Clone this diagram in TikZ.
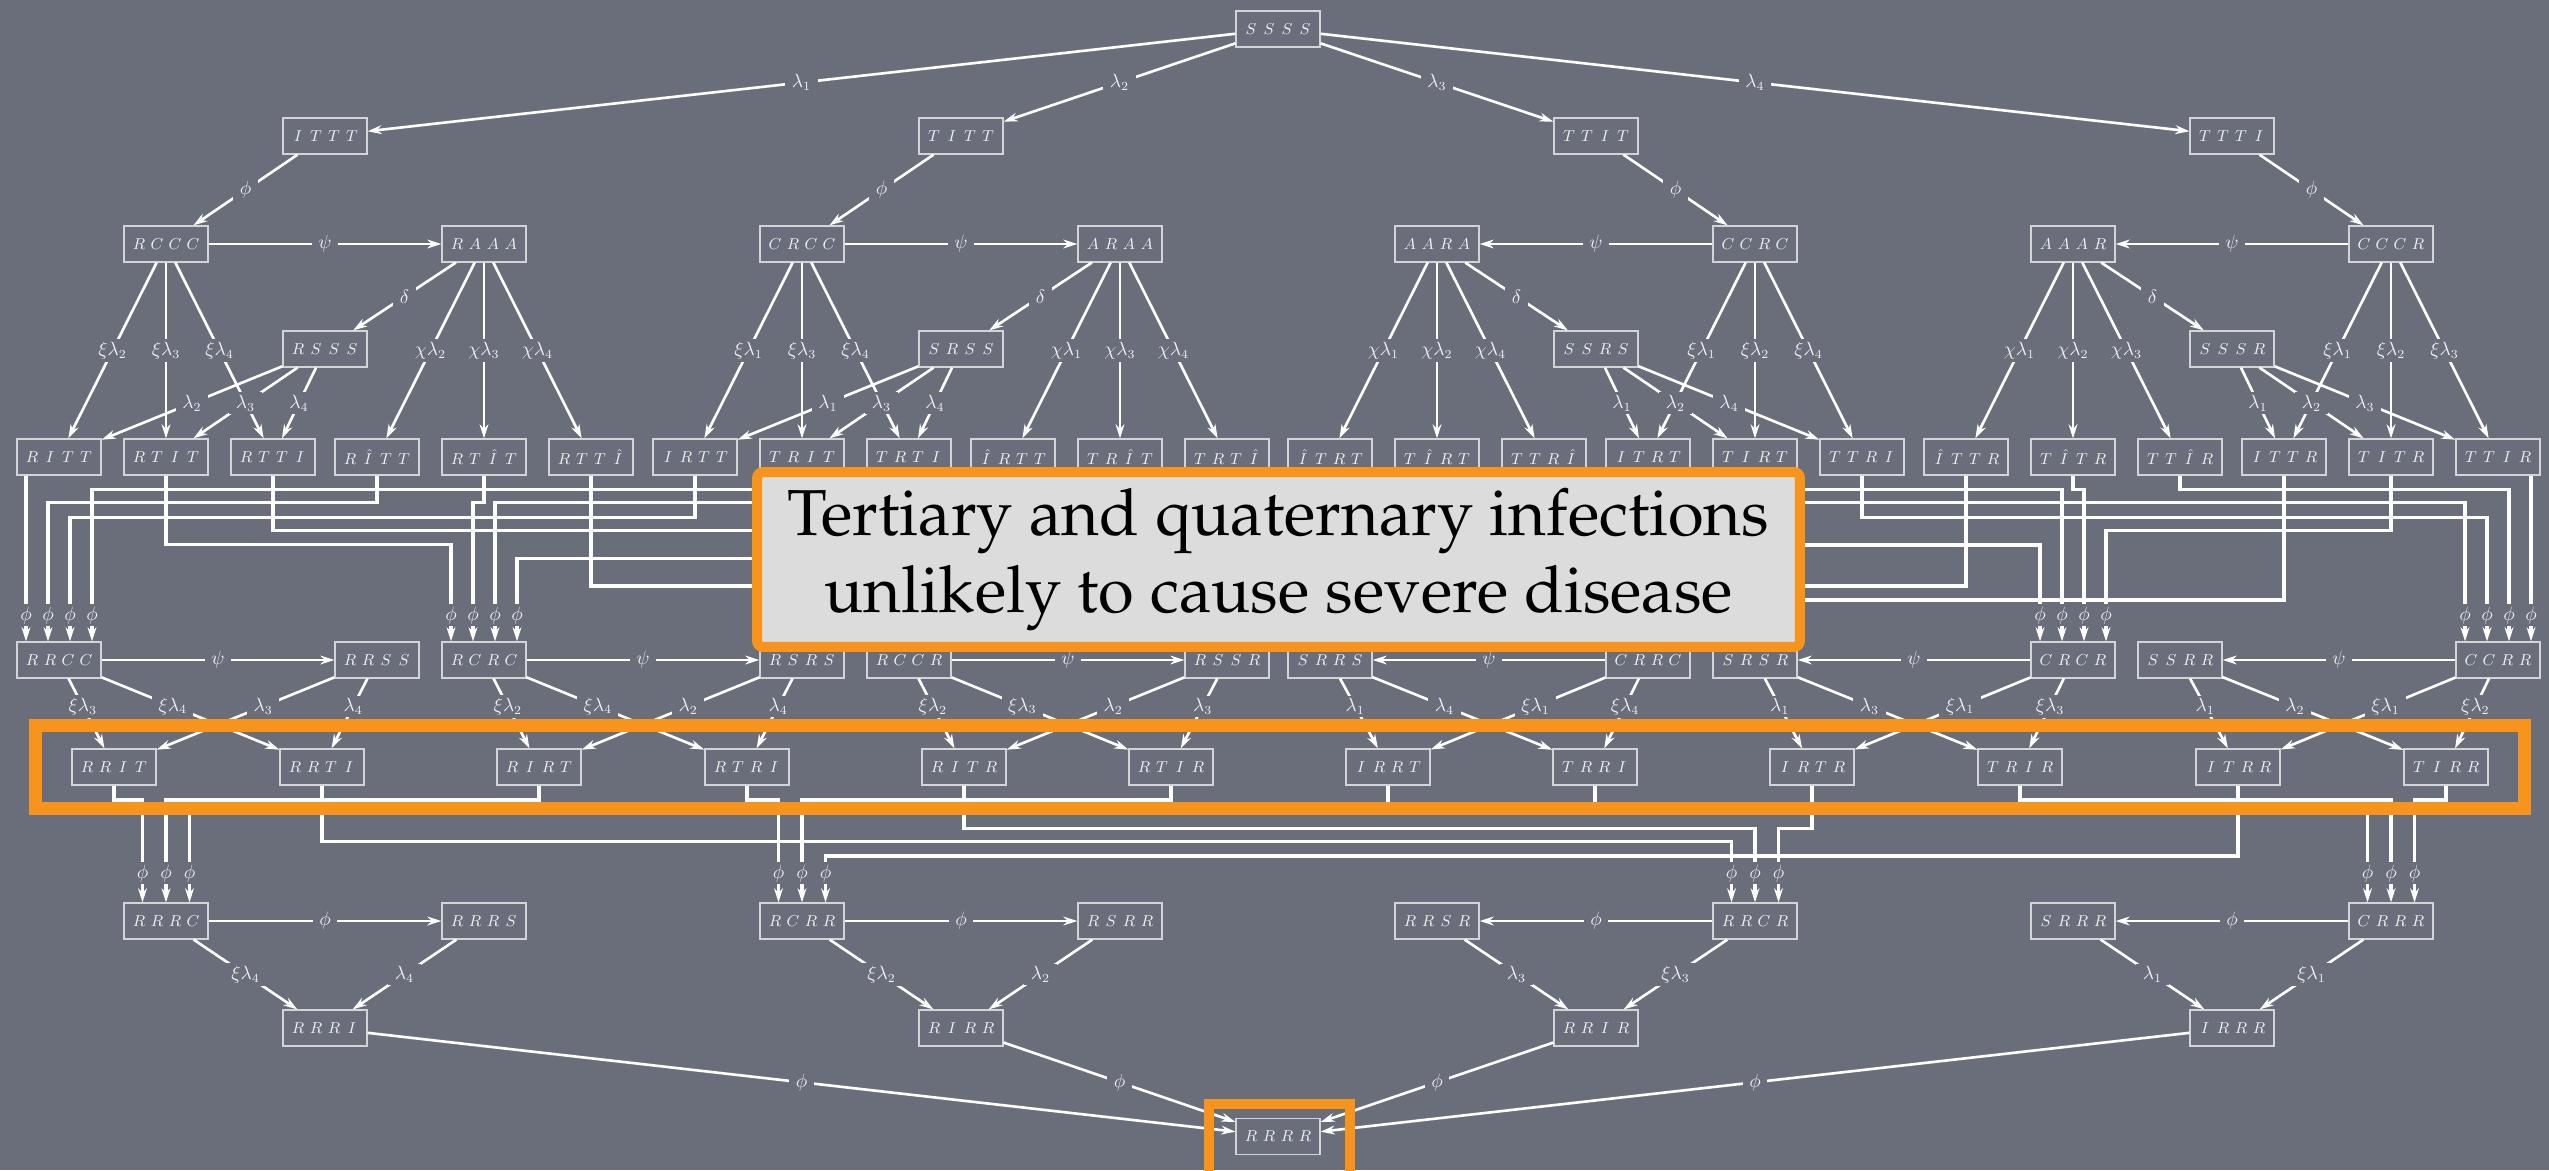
\documentclass[tikz,border=0pt]{standalone}
\usepackage[T1,TU]{fontenc}
\usetikzlibrary{arrows.meta,calc,fit}

\definecolor{slate}{RGB}{106,110,122}
\definecolor{hilite}{RGB}{247,148,30}
\definecolor{notegray}{RGB}{220,220,220}
\definecolor{boxedge}{RGB}{210,212,216}
\definecolor{boxtext}{RGB}{240,240,242}

\newlength{\slotw}
\setlength{\slotw}{0.36cm}
\newcommand{\cmp}[4]{\makebox[\slotw]{$#1$}\makebox[\slotw]{$#2$}\makebox[\slotw]{$#3$}\makebox[\slotw]{$#4$}}
\newcommand{\smallmath}{\fontsize{9.5}{11}\selectfont}
\newcommand{\labmath}{\fontsize{10.5}{12}\selectfont}
\newcommand{\notefont}{\fontencoding{T1}\fontfamily{ppl}\fontsize{37}{44}\selectfont}

% recovery routes: source, entry point, level, label gap
\newcommand{\phiroute}[4]{\draw[route] (#1.south) |- (#2 |- 0,#3) -- ($(#2)+(0,-#4)$) node[lbl]{$\phi$} -- (#2);}
\newcommand{\phidrop}[3]{\draw[route] (#2 |- #1.south) -- ($(#2)+(0,-#3)$) node[lbl]{$\phi$} -- (#2);}
% same route where the label lies under the note
\newcommand{\phihidden}[3]{\draw[route] (#1.south) |- (#2 |- 0,#3) -- (#2);}

\begin{document}
\begin{tikzpicture}[
    x=0.02cm, y=-0.02cm,
    box/.style={draw=boxedge, line width=0.7pt, text=boxtext, font=\smallmath,
                minimum height=0.72cm, inner xsep=0.12cm, inner ysep=0pt},
    link/.style={-{Stealth[length=8pt,width=5pt]}, draw=white, line width=1.5pt},
    route/.style={link, line width=1.8pt},
    lbl/.style={fill=slate, text=boxtext, font=\labmath, inner xsep=0.13cm, inner ysep=0.05cm},
    note/.style={draw=hilite, line width=0.2cm, fill=notegray, rounded corners=0.12cm,
                 minimum width=20.86cm, minimum height=3.5cm, align=center, font=\notefont},
    hl/.style={draw=hilite}
]
\path[use as bounding box, fill=slate] (0,0) rectangle (2549,1170);

% states
\node[box] (ssss) at (1278,29) {\cmp SSSS};
\foreach \n/\x/\t in {ittt/325/ITTT, titt/961/TITT, ttit/1596/TTIT, ttti/2232/TTTI}
  \node[box] (\n) at (\x,136) {\expandafter\cmp\t};
\foreach \n/\x/\t in {rccc/166/RCCC, raaa/484/RAAA, crcc/802/CRCC, araa/1120/ARAA,
                      aara/1437/AARA, ccrc/1755/CCRC, aaar/2073/AAAR, cccr/2391/CCCR}
  \node[box] (\n) at (\x,244) {\expandafter\cmp\t};
\foreach \n/\x/\t in {rsss/325/RSSS, srss/961/SRSS, ssrs/1596/SSRS, sssr/2232/SSSR}
  \node[box] (\n) at (\x,349) {\expandafter\cmp\t};
\foreach \n/\x/\t in {ritt/59/RITT, rtit/166/RTIT, rtti/273/RTTI, rhtt/377/R{\hat I}TT,
                      rtht/484/RT{\hat I}T, rtth/591/RTT{\hat I},
                      irtt/695/IRTT, trit/802/TRIT, trti/909/TRTI, hrtt/1013/{\hat I}RTT,
                      trht/1120/TR{\hat I}T, trth/1227/TRT{\hat I},
                      htrt/1330/{\hat I}TRT, thrt/1437/T{\hat I}RT, ttrh/1544/TTR{\hat I},
                      itrt/1648/ITRT, tirt/1755/TIRT, ttri/1862/TTRI,
                      httr/1966/{\hat I}TTR, thtr/2073/T{\hat I}TR, tthr/2180/TT{\hat I}R,
                      ittr/2284/ITTR, titr/2391/TITR, ttir/2498/TTIR}
  \node[box] (\n) at (\x,457) {\expandafter\cmp\t};
\foreach \n/\x/\t in {rrcc/59/RRCC, rrss/377/RRSS, rcrc/484/RCRC, rsrs/802/RSRS,
                      rccr/909/RCCR, rssr/1227/RSSR, srrs/1330/SRRS, crrc/1648/CRRC,
                      srsr/1755/SRSR, crcr/2073/CRCR, ssrr/2180/SSRR, ccrr/2498/CCRR}
  \node[box] (\n) at (\x,660) {\expandafter\cmp\t};
\foreach \n/\x/\t in {rrit/114/RRIT, rrti/322/RRTI, rirt/539/RIRT, rtri/747/RTRI,
                      ritr/964/RITR, rtir/1171/RTIR, irrt/1388/IRRT, trri/1595/TRRI,
                      irtr/1812/IRTR, trir/2020/TRIR, itrr/2238/ITRR, tirr/2446/TIRR}
  \node[box] (\n) at (\x,767) {\expandafter\cmp\t};
\foreach \n/\x/\t in {rrrc/166/RRRC, rrrs/484/RRRS, rcrr/802/RCRR, rsrr/1120/RSRR,
                      rrsr/1437/RRSR, rrcr/1755/RRCR, srrr/2073/SRRR, crrr/2391/CRRR}
  \node[box] (\n) at (\x,921) {\expandafter\cmp\t};
\foreach \n/\x/\t in {rrri/325/RRRI, rirr/961/RIRR, rrir/1596/RRIR, irrr/2232/IRRR}
  \node[box] (\n) at (\x,1028) {\expandafter\cmp\t};
\node[box] (rrrr) at (1278,1136.5) {\cmp RRRR};

% entry points of the recovery arrows
\foreach \n in {rrcc,rcrc,rccr,crcr,ccrr} {
  \coordinate (\n1) at ($(\n.north)+(-33,0)$);
  \coordinate (\n2) at ($(\n.north)+(-11,0)$);
  \coordinate (\n3) at ($(\n.north)+(11,0)$);
  \coordinate (\n4) at ($(\n.north)+(33,0)$);
}
\foreach \n in {rrrc,rcrr,rrcr,crrr} {
  \coordinate (\n1) at ($(\n.north)+(-23.5,0)$);
  \coordinate (\n2) at (\n.north);
  \coordinate (\n3) at ($(\n.north)+(23.5,0)$);
}

% upper transitions
\foreach \a/\b/\l in {ssss/ittt/\lambda_1, ssss/titt/\lambda_2, ssss/ttit/\lambda_3, ssss/ttti/\lambda_4,
    ittt/rccc/\phi, titt/crcc/\phi, ttit/ccrc/\phi, ttti/cccr/\phi,
    rccc/raaa/\psi, crcc/araa/\psi, ccrc/aara/\psi, cccr/aaar/\psi,
    raaa/rsss/\delta, araa/srss/\delta, aara/ssrs/\delta, aaar/sssr/\delta,
    rccc/ritt/\xi\lambda_2, rccc/rtit/\xi\lambda_3, rccc/rtti/\xi\lambda_4,
    raaa/rhtt/\chi\lambda_2, raaa/rtht/\chi\lambda_3, raaa/rtth/\chi\lambda_4,
    rsss/ritt/\lambda_2, rsss/rtit/\lambda_3, rsss/rtti/\lambda_4,
    crcc/irtt/\xi\lambda_1, crcc/trit/\xi\lambda_3, crcc/trti/\xi\lambda_4,
    araa/hrtt/\chi\lambda_1, araa/trht/\chi\lambda_3, araa/trth/\chi\lambda_4,
    srss/irtt/\lambda_1, srss/trit/\lambda_3, srss/trti/\lambda_4,
    aara/htrt/\chi\lambda_1, aara/thrt/\chi\lambda_2, aara/ttrh/\chi\lambda_4,
    ccrc/itrt/\xi\lambda_1, ccrc/tirt/\xi\lambda_2, ccrc/ttri/\xi\lambda_4,
    ssrs/itrt/\lambda_1, ssrs/tirt/\lambda_2, ssrs/ttri/\lambda_4,
    aaar/httr/\chi\lambda_1, aaar/thtr/\chi\lambda_2, aaar/tthr/\chi\lambda_3,
    cccr/ittr/\xi\lambda_1, cccr/titr/\xi\lambda_2, cccr/ttir/\xi\lambda_3,
    sssr/ittr/\lambda_1, sssr/titr/\lambda_2, sssr/ttir/\lambda_3}
  \draw[link] (\a) -- node[lbl]{$\l$} (\b);

% lower transitions
\foreach \a/\b/\l in {rrcc/rrss/\psi, rcrc/rsrs/\psi, rccr/rssr/\psi,
    crrc/srrs/\psi, crcr/srsr/\psi, ccrr/ssrr/\psi,
    rrrc/rrrs/\phi, rcrr/rsrr/\phi, rrcr/rrsr/\phi, crrr/srrr/\phi,
    rrrc/rrri/\xi\lambda_4, rrrs/rrri/\lambda_4, rcrr/rirr/\xi\lambda_2, rsrr/rirr/\lambda_2,
    rrsr/rrir/\lambda_3, rrcr/rrir/\xi\lambda_3, srrr/irrr/\lambda_1, crrr/irrr/\xi\lambda_1,
    rrri/rrrr/\phi, rirr/rrrr/\phi, rrir/rrrr/\phi, irrr/rrrr/\phi}
  \draw[link] (\a) -- node[lbl]{$\l$} (\b);
\foreach \a/\b/\l in {rrcc/rrit/\xi\lambda_3, rrcc/rrti/\xi\lambda_4, rrss/rrit/\lambda_3, rrss/rrti/\lambda_4,
    rcrc/rirt/\xi\lambda_2, rcrc/rtri/\xi\lambda_4, rsrs/rirt/\lambda_2, rsrs/rtri/\lambda_4,
    rccr/ritr/\xi\lambda_2, rccr/rtir/\xi\lambda_3, rssr/ritr/\lambda_2, rssr/rtir/\lambda_3,
    srrs/irrt/\lambda_1, srrs/trri/\lambda_4, crrc/irrt/\xi\lambda_1, crrc/trri/\xi\lambda_4,
    srsr/irtr/\lambda_1, srsr/trir/\lambda_3, crcr/irtr/\xi\lambda_1, crcr/trir/\xi\lambda_3,
    ssrr/itrr/\lambda_1, ssrr/tirr/\lambda_2, ccrr/itrr/\xi\lambda_1, ccrr/tirr/\xi\lambda_2}
  \draw[link] (\a) -- node[lbl, pos=0.4]{$\l$} (\b);

% recovery after third infection
\phidrop{ritt}{rrcc1}{26}
\phiroute{rhtt}{rrcc2}{502.7}{26}
\phiroute{irtt}{rrcc3}{517.3}{26}
\phiroute{hrtt}{rrcc4}{489.3}{26}
\phiroute{rtit}{rcrc1}{544.7}{26}
\phiroute{rtht}{rcrc2}{502.7}{26}
\phiroute{htrt}{rcrc3}{502.7}{26}
\phiroute{itrt}{rcrc4}{558.3}{26}
\phihidden{rtti}{rccr1}{530.7}
\phihidden{rtth}{rccr2}{586}
\phihidden{httr}{rccr3}{586}
\phihidden{ittr}{rccr4}{600}
\phiroute{trti}{crcr1}{545}{26}
\phiroute{trth}{crcr2}{489.3}{26}
\phiroute{thtr}{crcr3}{489.3}{26}
\phiroute{titr}{crcr4}{530.7}{26}
\phiroute{ttrh}{ccrr1}{502.7}{26}
\phiroute{ttri}{ccrr2}{517.3}{26}
\phiroute{tthr}{ccrr3}{489.3}{26}
\phidrop{ttir}{ccrr4}{26}

% recovery after fourth infection
\phiroute{rrit}{rrrc1}{800}{29}
\phiroute{rirt}{rrrc2}{800}{29}
\phiroute{irrt}{rrrc3}{810}{29}
\phiroute{rtri}{rcrr1}{800}{29}
\phiroute{rtir}{rcrr2}{800}{29}
\phiroute{itrr}{rcrr3}{856}{29}
\phiroute{rrti}{rrcr1}{841.7}{29}
\phiroute{ritr}{rrcr2}{828.3}{29}
\phiroute{irtr}{rrcr3}{828.3}{29}
\phiroute{trri}{crrr1}{810}{29}
\phiroute{trir}{crrr2}{800}{29}
\phiroute{tirr}{crrr3}{800}{29}

% highlights
\node[note] (note) at (1278.5,559.5) {Tertiary and quaternary infections\\unlikely to cause severe disease};
\node[hl, line width=0.26cm, fit=(rrit)(tirr), inner xsep=0.72cm, inner ysep=0.45cm] (band) {};
\draw[hl, line width=0.2cm] ($(rrrr.south west)+(-26,60)$) |- ($(rrrr.north)+(0,-14)$) -| ($(rrrr.south east)+(29,60)$);
\end{tikzpicture}
\end{document}
